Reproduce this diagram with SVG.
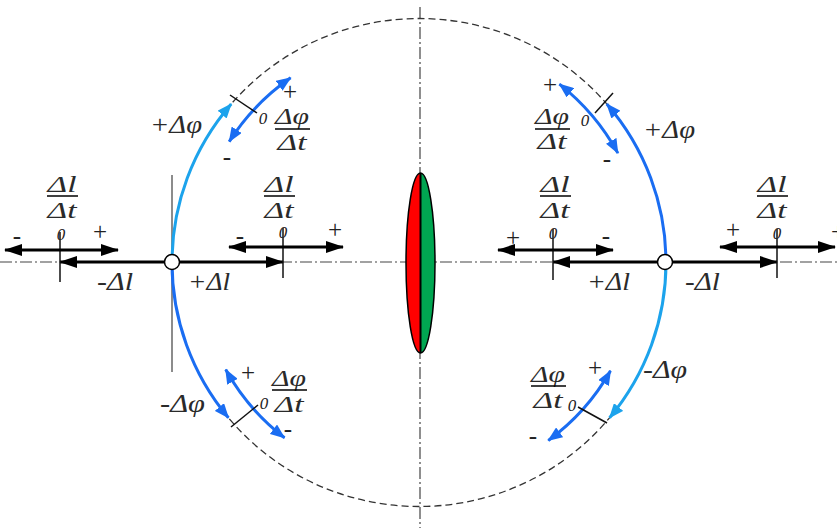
<svg xmlns="http://www.w3.org/2000/svg" width="837" height="528" viewBox="0 0 837 528">
<style>
.axis{stroke:#444;stroke-width:1.2;fill:none;stroke-dasharray:12 3 2 3}
.circ{stroke:#333;stroke-width:1.3;fill:none;stroke-dasharray:7 4}
.tick{stroke:#111;stroke-width:1.5;fill:none}
.bk{stroke:#000;stroke-width:3;fill:none}
.lb{stroke:#1CA3EC;stroke-width:3;fill:none}
.bl{stroke:#1A6DF2;stroke-width:3;fill:none}
.bar{stroke:#000;stroke-width:1.5}
.m{font-family:"Liberation Serif","Times New Roman",serif;font-style:italic;fill:#2a2a2a}
.s{font-family:"Liberation Serif","Times New Roman",serif;fill:#222;font-size:25px;text-anchor:middle}
.z{font-family:"Liberation Serif","Times New Roman",serif;font-style:italic;fill:#222;font-size:17px;text-anchor:middle}
.fr{font-size:24px;text-anchor:middle}
.big{font-size:26px}
</style>
<defs>
<marker id="ak" markerUnits="userSpaceOnUse" markerWidth="18" markerHeight="12" refX="17" refY="6" orient="auto-start-reverse"><path d="M0,0 L18,6 L0,12 z" fill="#000"/></marker>
<marker id="alb" markerUnits="userSpaceOnUse" markerWidth="15" markerHeight="12" refX="14" refY="6" orient="auto-start-reverse"><path d="M0,0 L15,6 L0,12 z" fill="#1CA3EC"/></marker>
<marker id="abl" markerUnits="userSpaceOnUse" markerWidth="15" markerHeight="12" refX="14" refY="6" orient="auto-start-reverse"><path d="M0,0 L15,6 L0,12 z" fill="#1A6DF2"/></marker>
</defs>

<g id="axes">
<line class="axis" x1="0" y1="262" x2="837" y2="262"/>
<line class="axis" x1="420" y1="7" x2="420" y2="528"/>
<ellipse class="circ" cx="419" cy="262.5" rx="247" ry="244"/>
<line x1="172" y1="175" x2="172" y2="372" stroke="#666" stroke-width="1.5"/>
</g>

<g id="lens">
<path d="M420.5,173 A14.5,90 0 0,0 420.5,353 Z" fill="#FF0000"/>
<path d="M420.5,173 A14.5,90 0 0,1 420.5,353 Z" fill="#00A651"/>
<ellipse cx="420.5" cy="263" rx="14.5" ry="90" fill="none" stroke="#000" stroke-width="1.5"/>
<line x1="420.5" y1="173" x2="420.5" y2="353" stroke="#000" stroke-width="2"/>
</g>

<g id="connectors">
<path class="lb" d="M172,262.5 A247,244 0 0,1 231.2,104" marker-end="url(#alb)"/>
<path class="bl" d="M172,262.5 A247,244 0 0,0 228.4,417.7" marker-end="url(#abl)"/>
<path class="bl" d="M666,262.5 A247,244 0 0,0 606.8,104" marker-end="url(#abl)"/>
<path class="lb" d="M666,262.5 A247,244 0 0,1 609.6,417.7" marker-end="url(#alb)"/>
<path class="bl" d="M229.2,141.6 A225,225 0 0,1 290.6,77.8" marker-start="url(#abl)" marker-end="url(#abl)"/>
<path class="bl" d="M559.4,84.1 A227,227 0 0,1 617.9,153.1" marker-start="url(#abl)" marker-end="url(#abl)"/>
<path class="bl" d="M225.7,369.6 A221,221 0 0,0 284.5,437.8" marker-start="url(#abl)" marker-end="url(#abl)"/>
<path class="bl" d="M610.5,370.8 A220,220 0 0,1 548.3,440.5" marker-start="url(#abl)" marker-end="url(#abl)"/>
<line class="tick" x1="230" y1="95" x2="257" y2="113"/>
<line class="tick" x1="595" y1="113" x2="613" y2="93"/>
<line class="tick" x1="231" y1="427" x2="258" y2="405"/>
<line class="tick" x1="578" y1="407" x2="607" y2="423"/>
<line class="bk" x1="172" y1="262" x2="283" y2="262" marker-end="url(#ak)"/>
<line class="bk" x1="172" y1="262" x2="60" y2="262" marker-end="url(#ak)"/>
<line class="bk" x1="665" y1="262" x2="553" y2="262" marker-end="url(#ak)"/>
<line class="bk" x1="665" y1="262" x2="777" y2="262" marker-end="url(#ak)"/>
<line class="tick" x1="60" y1="232" x2="60" y2="282"/>
<line class="tick" x1="283" y1="228" x2="283" y2="278"/>
<line class="tick" x1="553" y1="229" x2="553" y2="280"/>
<line class="tick" x1="777" y1="229" x2="777" y2="278"/>
<line class="bk" x1="5" y1="250" x2="118" y2="250" marker-start="url(#ak)" marker-end="url(#ak)"/>
<line class="bk" x1="229" y1="247" x2="343" y2="247" marker-start="url(#ak)" marker-end="url(#ak)"/>
<line class="bk" x1="498" y1="250" x2="613" y2="250" marker-start="url(#ak)" marker-end="url(#ak)"/>
<line class="bk" x1="720" y1="247" x2="835" y2="247" marker-start="url(#ak)" marker-end="url(#ak)"/>
</g>

<g id="node-left">
<circle cx="172" cy="262" r="7.5" fill="#fff" stroke="#000" stroke-width="1.5"/>
</g>
<g id="node-right">
<circle cx="665" cy="262" r="7.5" fill="#fff" stroke="#000" stroke-width="1.5"/>
</g>

<g id="labels-dl">
<text class="m big" x="97" y="290" textLength="36" lengthAdjust="spacingAndGlyphs">-Δl</text>
<text class="m big" x="188" y="290" textLength="42" lengthAdjust="spacingAndGlyphs">+Δl</text>
<text class="m big" x="587" y="290" textLength="43" lengthAdjust="spacingAndGlyphs">+Δl</text>
<text class="m big" x="685" y="290" textLength="35" lengthAdjust="spacingAndGlyphs">-Δl</text>
</g>

<g id="labels-dphi">
<text class="m big" x="150" y="133" textLength="52" lengthAdjust="spacingAndGlyphs">+Δφ</text>
<text class="m big" x="643" y="138" textLength="52" lengthAdjust="spacingAndGlyphs">+Δφ</text>
<text class="m big" x="160" y="412" textLength="45" lengthAdjust="spacingAndGlyphs">-Δφ</text>
<text class="m big" x="643" y="378" textLength="44" lengthAdjust="spacingAndGlyphs">-Δφ</text>
</g>

<g id="fractions">
<text class="m fr" x="62" y="192" textLength="29" lengthAdjust="spacingAndGlyphs">Δl</text>
<line class="bar" x1="47" y1="196" x2="78" y2="196"/>
<text class="m fr" x="62" y="218" textLength="29" lengthAdjust="spacingAndGlyphs">Δt</text>
<text class="m fr" x="279" y="192" textLength="29" lengthAdjust="spacingAndGlyphs">Δl</text>
<line class="bar" x1="264" y1="196" x2="295" y2="196"/>
<text class="m fr" x="279" y="218" textLength="29" lengthAdjust="spacingAndGlyphs">Δt</text>
<text class="m fr" x="555" y="192" textLength="29" lengthAdjust="spacingAndGlyphs">Δl</text>
<line class="bar" x1="540" y1="196" x2="571" y2="196"/>
<text class="m fr" x="555" y="218" textLength="29" lengthAdjust="spacingAndGlyphs">Δt</text>
<text class="m fr" x="772" y="192" textLength="29" lengthAdjust="spacingAndGlyphs">Δl</text>
<line class="bar" x1="757" y1="196" x2="788" y2="196"/>
<text class="m fr" x="772" y="218" textLength="29" lengthAdjust="spacingAndGlyphs">Δt</text>

<text class="m fr" x="292" y="124" textLength="34" lengthAdjust="spacingAndGlyphs">Δφ</text>
<line class="bar" x1="275" y1="129" x2="310" y2="129"/>
<text class="m fr" x="292" y="150" textLength="29" lengthAdjust="spacingAndGlyphs">Δt</text>
<text class="m fr" x="552" y="124" textLength="34" lengthAdjust="spacingAndGlyphs">Δφ</text>
<line class="bar" x1="535" y1="129" x2="570" y2="129"/>
<text class="m fr" x="552" y="149" textLength="29" lengthAdjust="spacingAndGlyphs">Δt</text>
<text class="m fr" x="289" y="386" textLength="34" lengthAdjust="spacingAndGlyphs">Δφ</text>
<line class="bar" x1="272" y1="390" x2="307" y2="390"/>
<text class="m fr" x="289" y="412" textLength="29" lengthAdjust="spacingAndGlyphs">Δt</text>
<text class="m fr" x="548" y="382" textLength="34" lengthAdjust="spacingAndGlyphs">Δφ</text>
<line class="bar" x1="531" y1="386" x2="566" y2="386"/>
<text class="m fr" x="548" y="408" textLength="29" lengthAdjust="spacingAndGlyphs">Δt</text>
</g>

<g id="signs">
<text class="s" x="17" y="244">-</text>
<text class="s" x="100" y="240">+</text>
<text class="s" x="240" y="244">-</text>
<text class="s" x="335" y="238">+</text>
<text class="s" x="513" y="246">+</text>
<text class="s" x="606" y="244">-</text>
<text class="s" x="733" y="238">+</text>
<text class="s" x="838" y="240">+</text>
<text class="s" x="290" y="100">+</text>
<text class="s" x="227" y="165">-</text>
<text class="s" x="550" y="93">+</text>
<text class="s" x="607" y="167">-</text>
<text class="s" x="248" y="381">+</text>
<text class="s" x="288" y="437">-</text>
<text class="s" x="595" y="376">+</text>
<text class="s" x="533" y="444">-</text>
<text class="z" x="61" y="240">0</text>
<text class="z" x="283" y="238">0</text>
<text class="z" x="553" y="239">0</text>
<text class="z" x="777" y="239">0</text>
<text class="z" x="263" y="124">0</text>
<text class="z" x="585" y="126">0</text>
<text class="z" x="264" y="409">0</text>
<text class="z" x="572" y="411">0</text>
</g>
</svg>
